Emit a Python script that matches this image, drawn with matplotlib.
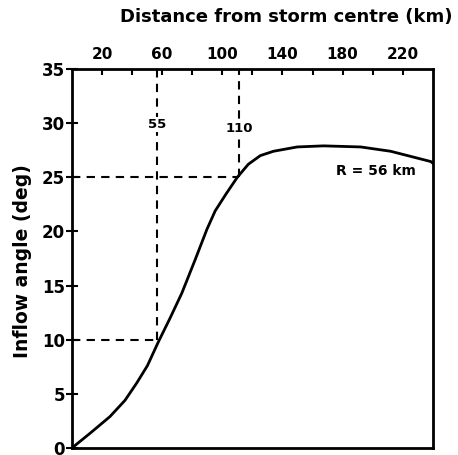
import matplotlib.pyplot as plt

# curve
dist_km = [0, 12, 25.3, 35.3, 43.1, 50.2, 57.5, 65.3, 73.1, 82, 89.8, 95.3,
           102.7, 110, 117.3, 125.3, 134, 149.8, 167.3, 192, 212, 238.7, 240]
inflow_deg = [0, 1.35, 2.9, 4.4, 6.0, 7.6, 9.8, 12.0, 14.3, 17.4, 20.2, 21.9,
              23.5, 25.0, 26.2, 27.0, 27.4, 27.8, 27.9, 27.8, 27.4, 26.45, 26.3]

top_ticks = [20, 60, 100, 140, 180, 220]
minor_ticks = [40, 80, 120, 160, 200]
y_ticks = [0, 5, 10, 15, 20, 25, 30, 35]

# dashed guide lines as drawn, with their printed labels
guide_x = [56.7, 111]
guide_y = [10, 25]
guide_labels = ['55', '110']
guide_label_y = [29.9, 29.5]

plt.rcParams['font.family'] = 'DejaVu Sans'
plt.rcParams['font.weight'] = 'bold'

fig = plt.figure(figsize=(4.58, 4.55), dpi=100)
ax = fig.add_axes([0.157, 0.0154, 0.788, 0.833])

ax.plot(dist_km, inflow_deg, color='black', lw=2.0, solid_joinstyle='round')

for gx, gy, lab, ly in zip(guide_x, guide_y, guide_labels, guide_label_y):
    ax.plot([gx, gx], [gy, 35], color='black', lw=1.5, ls=(0, (4, 3)))
    ax.plot([0, gx], [gy, gy], color='black', lw=1.5, ls=(0, (4, 3)))
    ax.text(gx, ly, lab, ha='center', va='center', fontsize=9.5,
            fontweight='bold',
            bbox=dict(facecolor='white', edgecolor='none', pad=0.8))

ax.text(202, 25.6, 'R = 56 km', ha='center', va='center', fontsize=10,
        fontweight='bold')

ax.set_xlim(0, 240)
ax.set_ylim(0, 35)

ax.xaxis.tick_top()
ax.set_xticks(top_ticks)
ax.set_xticks(minor_ticks, minor=True)
ax.tick_params(axis='x', which='both', direction='in', length=4, width=1.5,
               labelsize=11, pad=5)
ax.set_yticks(y_ticks)
ax.tick_params(axis='y', direction='inout', length=8, width=1.5,
               labelsize=12, pad=1)

fig.text(0.625, 0.962, 'Distance from storm centre (km)', ha='center',
         va='center', fontsize=13, fontweight='bold')
fig.text(0.05, 0.426, 'Inflow angle (deg)', ha='center', va='center',
         rotation=90, fontsize=13.5, fontweight='bold')

for s in ax.spines.values():
    s.set_linewidth(2.0)

fig.savefig('out.png', dpi=100)
